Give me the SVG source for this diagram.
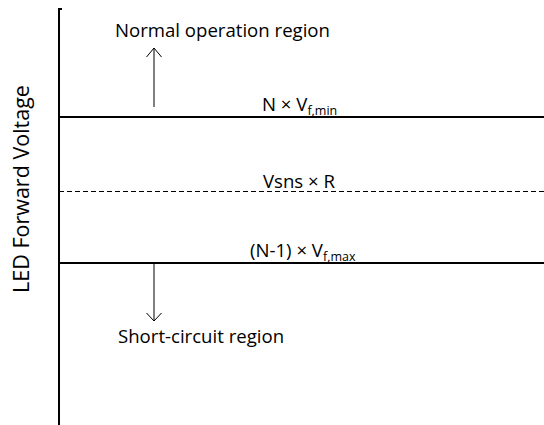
<svg xmlns="http://www.w3.org/2000/svg" width="544" height="425" viewBox="0 0 544 425">
<style>
.t{font-family:"Open Sans","Liberation Sans",sans-serif;font-size:18.6px;fill:#000}
.s{font-size:12.5px}
.ax{stroke:#000;stroke-width:2;fill:none}
.th{stroke:#000;stroke-width:1;fill:none}
.dash{stroke:#000;stroke-width:1;stroke-dasharray:5 3;fill:none}
</style>
<rect width="544" height="425" fill="#fff"/>
<g id="axis">
<path class="ax" d="M59,425 V9 H62"/>
<text class="t" transform="translate(29,189) rotate(-90)" text-anchor="middle" style="font-size:21.5px">LED Forward Voltage</text>
</g>
<g id="connectors">
<line class="ax" x1="59" y1="117" x2="544" y2="117"/>
<line class="dash" x1="59" y1="191.5" x2="544" y2="191.5"/>
<line class="ax" x1="59" y1="263" x2="544" y2="263"/>
<path class="th" d="M154,107 V48 M146.5,57 L154,48 L161.5,57"/>
<path class="th" d="M154,263 V321 M146.5,313 L154,321 L161.5,313"/>
</g>
<g id="normal"><text class="t" x="115" y="37">Normal operation region</text></g>
<g id="nvfmin"><text class="t" x="262" y="111">N × V<tspan class="s" dy="4">f,min</tspan></text></g>
<g id="vsns"><text class="t" x="263" y="188">Vsns × R</text></g>
<g id="n1vfmax"><text class="t" x="250" y="257">(N-1) × V<tspan class="s" dy="4">f,max</tspan></text></g>
<g id="short"><text class="t" x="118" y="343">Short-circuit region</text></g>
</svg>
